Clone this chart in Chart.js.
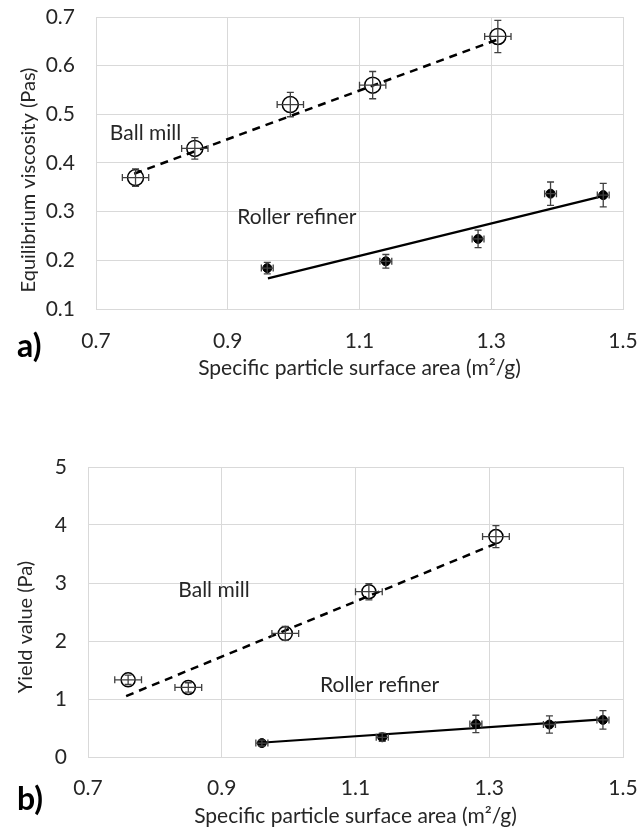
<!DOCTYPE html>
<html>
<head>
<meta charset="utf-8">
<script src="https://cdn.jsdelivr.net/npm/chart.js@4.4.0/dist/chart.umd.min.js"></script>
<style>
  body { margin: 0; background: #fff; }
  .box { position: absolute; left: 0; width: 639px; }
  .tag { position: absolute; font: bold 32px Lato, sans-serif; color: #000; }
</style>
</head>
<body>
<div class="box" style="top:0;height:415px"><canvas id="chartA"></canvas></div>
<div class="box" style="top:415px;height:415px"><canvas id="chartB"></canvas></div>
<div class="tag" style="left:17px;top:325px">a)</div>
<div class="tag" style="left:17px;top:778px">b)</div>
<script>
// Specific particle surface area (m2/g)
var ballX = [0.76, 0.85, 0.995, 1.12, 1.31];
var rollX = [0.96, 1.14, 1.28, 1.39, 1.47];
var ballXErr = [0.02, 0.02, 0.02, 0.02, 0.02];
var rollXErr = [0.009, 0.009, 0.009, 0.009, 0.009];

// a) equilibrium viscosity (Pas)
var ballVisc = [0.37, 0.43, 0.52, 0.56, 0.66];
var ballViscErr = [0.018, 0.022, 0.025, 0.028, 0.033];
var rollVisc = [0.184, 0.198, 0.244, 0.337, 0.334];
var rollViscErr = [0.012, 0.014, 0.018, 0.024, 0.024];
var ballViscTrendX = [0.758, 1.312];
var ballViscTrendY = [0.378, 0.655];
var rollViscTrendX = [0.961, 1.472];
var rollViscTrendY = [0.163, 0.333];

// b) yield value (Pa)
var ballYield = [1.33, 1.2, 2.13, 2.85, 3.8];
var ballYieldErr = [0.08, 0.08, 0.12, 0.14, 0.19];
var rollYield = [0.24, 0.34, 0.57, 0.56, 0.64];
var rollYieldErr = [0.05, 0.07, 0.15, 0.15, 0.16];
var ballYieldTrendX = [0.757, 1.31];
var ballYieldTrendY = [1.05, 3.68];
var rollYieldTrendX = [0.963, 1.47];
var rollYieldTrendY = [0.25, 0.65];

var xTitle = 'Specific particle surface area (m\u00b2/g)';
var FONT = 'Lato, sans-serif';
var GRID = '#d9d9d9';
var TEXT = '#262626';

function pts(xs, ys) {
	return xs.map(function(x, i) { return { x: x, y: ys[i] }; });
}

// draws error bars, y title and text labels
var extras = {
	id: 'extras',
	afterDatasetsDraw: function(chart, args, opts) {
		var ctx = chart.ctx, sx = chart.scales.x, sy = chart.scales.y;
		ctx.save();
		ctx.strokeStyle = '#404040';
		ctx.lineWidth = 1.3;
		opts.errors.forEach(function(e) {
			e.x.forEach(function(xv, i) {
				var px = sx.getPixelForValue(xv), py = sy.getPixelForValue(e.y[i]);
				var x0 = sx.getPixelForValue(xv - e.xe[i]), x1 = sx.getPixelForValue(xv + e.xe[i]);
				var y0 = sy.getPixelForValue(e.y[i] - e.ye[i]), y1 = sy.getPixelForValue(e.y[i] + e.ye[i]);
				ctx.beginPath();
				ctx.moveTo(x0, py); ctx.lineTo(x1, py);
				ctx.moveTo(x0, py - 3.5); ctx.lineTo(x0, py + 3.5);
				ctx.moveTo(x1, py - 3.5); ctx.lineTo(x1, py + 3.5);
				ctx.moveTo(px, y0); ctx.lineTo(px, y1);
				ctx.moveTo(px - 3.5, y0); ctx.lineTo(px + 3.5, y0);
				ctx.moveTo(px - 3.5, y1); ctx.lineTo(px + 3.5, y1);
				ctx.stroke();
			});
		});
		ctx.fillStyle = TEXT;
		ctx.font = '21px ' + FONT;
		ctx.textBaseline = 'middle';
		opts.labels.forEach(function(l) {
			ctx.fillText(l.text, sx.getPixelForValue(l.x), sy.getPixelForValue(l.y));
		});
		// y axis title, a little below the middle of the plot as in the source figure
		var a = chart.chartArea;
		ctx.font = '20px ' + FONT;
		ctx.translate(opts.yTitleX, (a.top + a.bottom) / 2 + opts.yTitleShift);
		ctx.rotate(-Math.PI / 2);
		ctx.textAlign = 'center';
		ctx.fillText(opts.yTitle, 0, 0);
		ctx.restore();
	}
};

function makeChart(id, cfg) {
	return new Chart(document.getElementById(id), {
		type: 'scatter',
		data: {
			datasets: [
				{
					label: 'Ball mill trend',
					data: pts(cfg.ballTX, cfg.ballTY),
					showLine: true,
					borderColor: '#000',
					borderWidth: 2.5,
					borderDash: [8, 6],
					pointRadius: 0
				},
				{
					label: 'Roller refiner trend',
					data: pts(cfg.rollTX, cfg.rollTY),
					showLine: true,
					borderColor: '#000',
					borderWidth: 2.2,
					pointRadius: 0
				},
				{
					label: 'Ball mill',
					data: pts(ballX, cfg.ball),
					pointRadius: cfg.openR,
					pointBorderWidth: 1.5,
					pointBorderColor: '#000',
					pointBackgroundColor: 'rgba(0,0,0,0)'
				},
				{
					label: 'Roller refiner',
					data: pts(rollX, cfg.roll),
					pointRadius: 4.5,
					pointBorderWidth: 1,
					pointBorderColor: '#000',
					pointBackgroundColor: '#000'
				}
			]
		},
		options: {
			responsive: true,
			maintainAspectRatio: false,
			animation: false,
			layout: { autoPadding: false, padding: { left: 0, right: 16, top: cfg.top, bottom: 0 } },
			plugins: {
				legend: { display: false },
				tooltip: { enabled: false },
				extras: {
					errors: [
						{ x: ballX, y: cfg.ball, xe: ballXErr, ye: cfg.ballErr },
						{ x: rollX, y: cfg.roll, xe: rollXErr, ye: cfg.rollErr }
					],
					labels: cfg.labels,
					yTitle: cfg.yTitle,
					yTitleX: cfg.yTitleX,
					yTitleShift: cfg.yTitleShift
				}
			},
			scales: {
				x: {
					type: 'linear',
					min: 0.7,
					max: 1.5,
					afterFit: function(s) {
						s.height = cfg.xH;
						s.paddingLeft = 0;
						s.paddingRight = 0;
					},
					grid: { color: GRID, drawTicks: false },
					border: { color: GRID },
					ticks: {
						stepSize: 0.2,
						padding: cfg.xTickPad,
						color: TEXT,
						font: { family: FONT, size: 21 },
						callback: function(v) { return v.toFixed(1); }
					},
					title: {
						display: true,
						text: xTitle,
						color: TEXT,
						font: { family: FONT, size: 21 },
						padding: { top: 0, bottom: cfg.xTitlePad }
					}
				},
				y: {
					min: cfg.yMin,
					max: cfg.yMax,
					afterFit: function(s) {
						s.width = cfg.yW;
						s.paddingTop = 0;
						s.paddingBottom = 0;
					},
					grid: { color: GRID, drawTicks: false },
					border: { color: GRID },
					ticks: {
						stepSize: cfg.yStep,
						padding: 21,
						color: TEXT,
						font: { family: FONT, size: 21 },
						callback: cfg.yFmt
					}
				}
			}
		},
		plugins: [extras]
	});
}

makeChart('chartA', {
	ball: ballVisc, ballErr: ballViscErr,
	roll: rollVisc, rollErr: rollViscErr,
	ballTX: ballViscTrendX, ballTY: ballViscTrendY,
	rollTX: rollViscTrendX, rollTY: rollViscTrendY,
	openR: 8,
	top: 17, xH: 106, xTickPad: 20, xTitlePad: 34,
	yW: 96,
	yMin: 0.1, yMax: 0.7, yStep: 0.1,
	yFmt: function(v) { return v.toFixed(1); },
	yTitle: 'Equilibrium viscosity (Pas)', yTitleX: 29, yTitleShift: 17,
	labels: [
		{ text: 'Ball mill', x: 0.721, y: 0.462 },
		{ text: 'Roller refiner', x: 0.9145, y: 0.289 }
	]
});

makeChart('chartB', {
	ball: ballYield, ballErr: ballYieldErr,
	roll: rollYield, rollErr: rollYieldErr,
	ballTX: ballYieldTrendX, ballTY: ballYieldTrendY,
	rollTX: rollYieldTrendX, rollTY: rollYieldTrendY,
	openR: 7,
	top: 52, xH: 73, xTickPad: 19, xTitlePad: 1,
	yW: 88,
	yMin: 0, yMax: 5, yStep: 1,
	yFmt: function(v) { return v; },
	yTitle: 'Yield value (Pa)', yTitleX: 26, yTitleShift: 15,
	labels: [
		{ text: 'Ball mill', x: 0.835, y: 2.88 },
		{ text: 'Roller refiner', x: 1.047, y: 1.23 }
	]
});
</script>
</body>
</html>
